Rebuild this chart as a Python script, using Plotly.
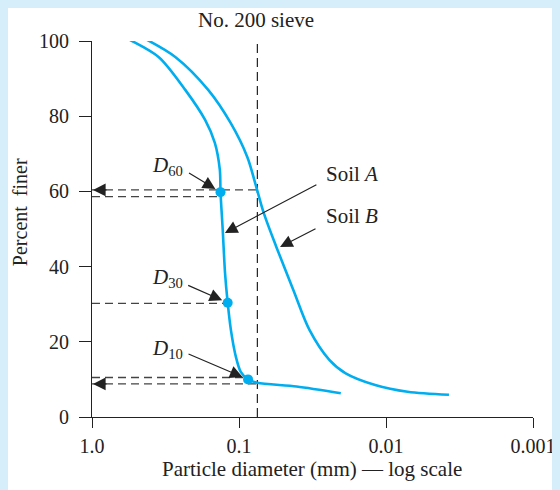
import math
import plotly.graph_objects as go

# ---------------- data ----------------
soil_a_d = [0.601, 0.351, 0.232, 0.170, 0.146, 0.135, 0.1336, 0.129, 0.1244,
            0.1194, 0.1135, 0.105, 0.0973, 0.0868, 0.0752, 0.0406, 0.0203]
soil_a_pf = [101, 95.7, 87.0, 79.0, 72.9, 65.7, 59.8, 49.7, 38.2,
             30.4, 23.1, 16.0, 12.0, 10.0, 9.1, 8.1, 6.3]

soil_b_d = [0.456, 0.270, 0.162, 0.114, 0.0877, 0.0776, 0.0678, 0.0558,
            0.0427, 0.0331, 0.0243, 0.0188, 0.01185, 0.00713, 0.00373]
soil_b_pf = [101, 95.7, 87.0, 78.2, 69.1, 62.2, 54.2, 45.3,
             33.8, 23.1, 15.2, 11.6, 8.5, 6.7, 5.9]

d_labels = ["60", "30", "10"]
d_sizes = [0.1336, 0.1194, 0.0868]
d_pf = [59.8, 30.4, 10.0]
d_line_pf = [58.6, 30.2, 10.5]

sieve_d = 0.075
sieve_guides_pf = [60.4, 8.8]   # where curves B and A cross the No. 200 sieve

x_tickvals = [1.0, 0.1, 0.01, 0.001]
x_ticktext = ["1.0", "0.1", "0.01", "0.001"]
y_tickvals = [0, 20, 40, 60, 80, 100]

# ---------------- styling ----------------
BLUE = "#00aeef"
BG = "#d6eefa"
INK = "#222222"
FONT = "Liberation Serif"
# page is offset by the 8px body margin; coordinates below are figure pixels
OFF = 8
L, R, T, B = 92 - OFF, 540 - OFF, 41 - OFF, 417 - OFF
W, H = 560, 490


def px(x):
    return (x - OFF - L) / (R - L)


def py(y):
    return (B - (y - OFF)) / (B - T)


fig = go.Figure()

dash_style = dict(color="#444444", width=1.3, dash="8px,5px")
for pf in sieve_guides_pf:
    fig.add_trace(go.Scatter(x=[1.0, sieve_d], y=[pf, pf], mode="lines",
                             line=dash_style, hoverinfo="skip", showlegend=False))
for d, pf in zip(d_sizes, d_line_pf):
    fig.add_trace(go.Scatter(x=[1.0, d], y=[pf, pf], mode="lines",
                             line=dash_style, hoverinfo="skip", showlegend=False))
fig.add_trace(go.Scatter(x=[sieve_d, sieve_d], y=[0, 100], mode="lines",
                         line=dict(color=INK, width=1.2, dash="9px,5px"),
                         hoverinfo="skip", showlegend=False))

fig.add_trace(go.Scatter(x=soil_a_d, y=soil_a_pf, mode="lines",
                         line=dict(color=BLUE, width=2.6, shape="spline", smoothing=0.8),
                         name="Soil A", showlegend=False))
fig.add_trace(go.Scatter(x=soil_b_d, y=soil_b_pf, mode="lines",
                         line=dict(color=BLUE, width=2.6, shape="spline", smoothing=0.9),
                         name="Soil B", showlegend=False))
fig.add_trace(go.Scatter(x=d_sizes, y=d_pf, mode="markers",
                         marker=dict(color=BLUE, size=10), showlegend=False,
                         cliponaxis=False))

arrow = dict(showarrow=True, arrowhead=2, arrowsize=2.1, arrowwidth=1.2,
             arrowcolor=INK, text="")
ann = []
for pf in sieve_guides_pf:
    ann.append(dict(x=0, y=pf, xref="x", yref="y", ax=16, ay=0, standoff=1, **arrow))

label_px = [(151, 166), (151, 278), (151, 349)]
tail_off = [(-33, -20), (-41, -18), (-61, -26)]
for lab, d, pf, (lx, ly), (ox, oy) in zip(d_labels, d_sizes, d_pf, label_px, tail_off):
    ann.append(dict(x=math.log10(d), y=pf, xref="x", yref="y", ax=ox, ay=oy,
                    standoff=6, **arrow))
    ann.append(dict(x=px(lx), y=py(ly), xref="paper", yref="paper",
                    xanchor="left", yanchor="middle",
                    text="<i>D</i><sub>%s</sub>" % lab, showarrow=False,
                    font=dict(family=FONT, size=21, color=INK)))

ann.append(dict(x=px(227), y=py(233), xref="paper", yref="paper",
                ax=320 - 227, ay=184 - 233, **arrow))
ann.append(dict(x=px(283), y=py(247), xref="paper", yref="paper",
                ax=320 - 283, ay=228 - 247, **arrow))
for txt, ly in [("Soil <i>A</i>", 174), ("Soil <i>B</i>", 216)]:
    ann.append(dict(x=px(328), y=py(ly), xref="paper", yref="paper",
                    xanchor="left", yanchor="middle", text=txt, showarrow=False,
                    font=dict(family=FONT, size=21, color=INK)))

ann.append(dict(x=px(259), y=py(20), xref="paper", yref="paper",
                xanchor="center", yanchor="middle",
                text="No. 200 sieve", showarrow=False,
                font=dict(family=FONT, size=21, color=INK)))
ann.append(dict(x=px(315), y=py(469), xref="paper", yref="paper",
                xanchor="center", yanchor="middle",
                text="Particle diameter (mm) — log scale", showarrow=False,
                font=dict(family=FONT, size=21, color=INK)))
ann.append(dict(x=px(19), y=py(212), xref="paper", yref="paper",
                xanchor="center", yanchor="middle",
                text="Percent  finer", showarrow=False, textangle=-90,
                font=dict(family=FONT, size=20, color=INK)))

fig.update_layout(
    width=W, height=H,
    margin=dict(l=L, r=W - R, t=T, b=H - B),
    paper_bgcolor="white", plot_bgcolor="white",
    font=dict(family=FONT, size=20, color=INK),
    annotations=ann,
)
fig.update_xaxes(type="log", range=[0, -3], tickvals=x_tickvals, ticktext=x_ticktext,
                 showgrid=False, zeroline=False, showline=True, linecolor=INK,
                 linewidth=1.2, ticks="outside", ticklen=10, tickwidth=1.2,
                 tickcolor=INK, ticklabelstandoff=1)
fig.update_yaxes(range=[0, 100], tickvals=y_tickvals, showgrid=False, zeroline=False,
                 showline=True, linecolor=INK, linewidth=1.2, ticks="outside",
                 ticklen=12, tickwidth=1.2, tickcolor=INK, ticklabelstandoff=6)

fig.write_html(
    "out.html",
    post_script="document.body.style.background='%s';"
                "document.body.style.overflow='hidden';" % BG,
)
